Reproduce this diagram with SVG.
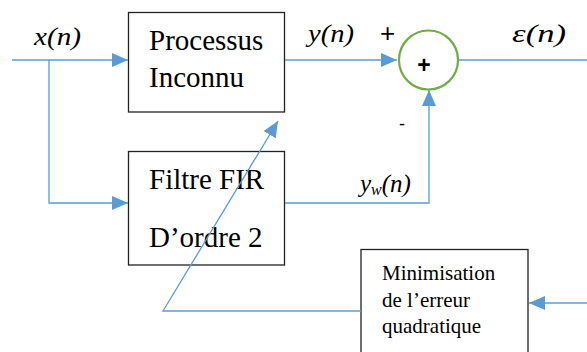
<svg xmlns="http://www.w3.org/2000/svg" width="587" height="352" viewBox="0 0 587 352">
<style>
.box{fill:#fff;stroke:#222;stroke-width:1.3}
.c{fill:none;stroke:#5B9BD5;stroke-width:1.3}
text{font-family:'Liberation Serif','Times New Roman',Tinos,'DejaVu Serif',serif}
.t{font-size:29px;fill:#000}
.m{font-size:21px;fill:#000}
.i{font-style:italic;font-size:25px;fill:#000}
text.s{font-family:'Liberation Sans',Arial,sans-serif;fill:#000}
</style>
<defs>
<marker id="ahL" viewBox="0 0 16 14" refX="16" refY="7" markerWidth="16" markerHeight="14" markerUnits="userSpaceOnUse" orient="auto">
<path d="M0,0 L16,7 L0,14 z" fill="#5B9BD5"/>
</marker>
</defs>
<g id="processus">
<rect class="box" x="128.5" y="12.5" width="156" height="99.5"/>
<text class="t" x="149" y="50">Processus</text>
<text class="t" x="149" y="87">Inconnu</text>
</g>
<g id="filtre">
<rect class="box" x="128.5" y="151.5" width="156" height="113.5"/>
<text class="t" x="149" y="189">Filtre FIR</text>
<text class="t" x="149" y="247">D’ordre 2</text>
</g>
<g id="sommateur">
<circle cx="428.5" cy="60" r="29.5" fill="#fff" stroke="#70AD47" stroke-width="2.2"/>
<text class="s" x="424" y="72.5" font-size="23" font-weight="bold" text-anchor="middle">+</text>
</g>
<g id="minimisation">
<rect class="box" x="361" y="249.5" width="167" height="110"/>
<text class="m" x="382" y="280">Minimisation</text>
<text class="m" x="382" y="307">de l’erreur</text>
<text class="m" x="382" y="333">quadratique</text>
</g>
<g id="connectors">
<line class="c" x1="12" y1="60" x2="128" y2="60" marker-end="url(#ahL)"/>
<polyline class="c" points="49,60 49,203 128,203" marker-end="url(#ahL)"/>
<line class="c" x1="285" y1="60" x2="397" y2="60" marker-end="url(#ahL)"/>
<polyline class="c" points="285,203 429,203 429,90" marker-end="url(#ahL)"/>
<line class="c" x1="459" y1="60" x2="587" y2="60"/>
<polyline class="c" points="361,311 163,311 278,121" marker-end="url(#ahL)"/>
<line class="c" x1="587" y1="303" x2="529" y2="303" marker-end="url(#ahL)"/>
</g>
<g id="labels">
<text class="i" x="34" y="45" textLength="47" lengthAdjust="spacingAndGlyphs">x(n)</text>
<text class="i" x="308" y="42" textLength="46" lengthAdjust="spacingAndGlyphs">y(n)</text>
<text class="s" x="387.5" y="42" font-size="26" text-anchor="middle">+</text>
<text class="s" x="402" y="130" font-size="18" text-anchor="middle">-</text>
<text class="i" x="512" y="42" font-size="31" textLength="54" lengthAdjust="spacingAndGlyphs">ε(n)</text>
<text class="i" x="360" y="192">y<tspan font-size="16" dy="3">w</tspan><tspan dy="-3">(n)</tspan></text>
</g>
</svg>
